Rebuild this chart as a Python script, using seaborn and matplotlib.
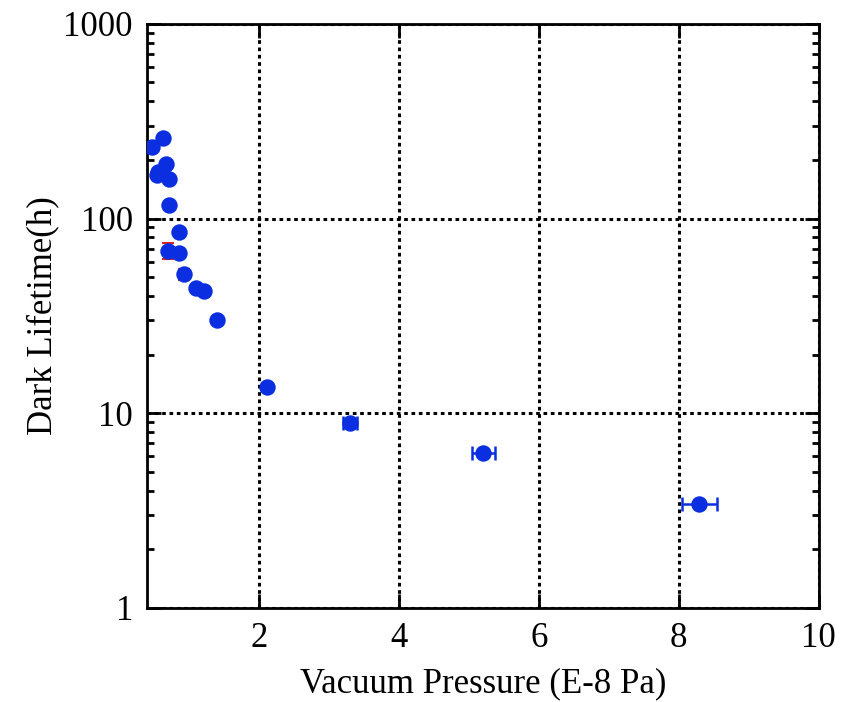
import numpy as np
import pandas as pd
import seaborn as sns
import matplotlib
matplotlib.use("Agg")
import matplotlib.pyplot as plt
from matplotlib.ticker import LogLocator, NullFormatter, FixedLocator

# Data
pressure = [0.48, 0.54, 0.56, 0.63, 0.68, 0.71, 0.72, 0.70, 0.86, 0.86,
            0.93, 1.10, 1.21, 1.40, 2.12, 3.30, 5.21, 8.29]
lifetime = [232, 168, 174, 259, 190, 117.5, 160, 68.2, 85.7, 66.4,
            51.8, 44.2, 42.5, 30.1, 13.7, 8.89, 6.23, 3.42]
pressure_err = [0.0, 0.0, 0.0, 0.0, 0.0, 0.0, 0.0, 0.0, 0.0, 0.0,
                0.0, 0.0, 0.0, 0.0, 0.03, 0.10, 0.17, 0.25]
lifetime_err = [4, 3, 3, 6, 3, 2, 3, 6.5, 1.5, 1.2,
                3.2, 0.8, 0.8, 0.5, 0.25, 0.2, 0.1, 0.05]

df = pd.DataFrame({"pressure": pressure, "lifetime": lifetime,
                   "xerr": pressure_err, "yerr": lifetime_err})

sns.set_style("ticks")
plt.rcParams['font.family'] = ['Liberation Serif', 'DejaVu Serif']
plt.rcParams['text.color'] = 'black'
plt.rcParams['axes.labelcolor'] = 'black'
plt.rcParams['xtick.color'] = 'black'
plt.rcParams['ytick.color'] = 'black'

fig = plt.figure(figsize=(8.44, 7.02), dpi=100)
ax = fig.add_axes([0.174, 0.134, 0.796, 0.832])

blue = '#0a2ee0'

# Error bars: vertical in red, horizontal in blue
ax.errorbar(df["pressure"], df["lifetime"], yerr=df["yerr"], fmt='none',
            ecolor='#e02020', elinewidth=1.5, capsize=4, capthick=1.5, zorder=2)
ax.errorbar(df["pressure"], df["lifetime"], xerr=df["xerr"], fmt='none',
            ecolor=blue, elinewidth=1.8, capsize=5, capthick=1.8, zorder=3)
sns.scatterplot(data=df, x="pressure", y="lifetime", ax=ax, color=blue,
                s=140, edgecolor=blue, linewidth=0, zorder=4)

ax.set_yscale('log')
ax.set_xlim(0.4, 10)
ax.set_ylim(1, 1000)

ax.xaxis.set_major_locator(FixedLocator([2, 4, 6, 8, 10]))
ax.set_xticklabels(['2', '4', '6', '8', '10'])
ax.yaxis.set_major_locator(FixedLocator([1, 10, 100, 1000]))
ax.set_yticklabels(['1', '10', '100', '1000'])
ax.yaxis.set_minor_locator(LogLocator(base=10, subs=np.arange(2, 10)))
ax.yaxis.set_minor_formatter(NullFormatter())

ax.grid(True, which='major', color='black', linestyle=(0, (1.2, 1.2)), linewidth=2.2)
ax.tick_params(which='major', direction='in', length=10, width=2,
               top=True, right=True, labelsize=25, pad=10, colors='black')
ax.tick_params(which='minor', direction='in', length=5, width=2,
               top=True, right=True, colors='black')
for sp in ax.spines.values():
    sp.set_linewidth(2)
    sp.set_color('black')

ax.set_xlabel('Vacuum Pressure (E-8 Pa)', fontsize=25, labelpad=9)
ax.set_ylabel('Dark Lifetime(h)', fontsize=25, labelpad=3)

fig.savefig('out.png', dpi=100)
